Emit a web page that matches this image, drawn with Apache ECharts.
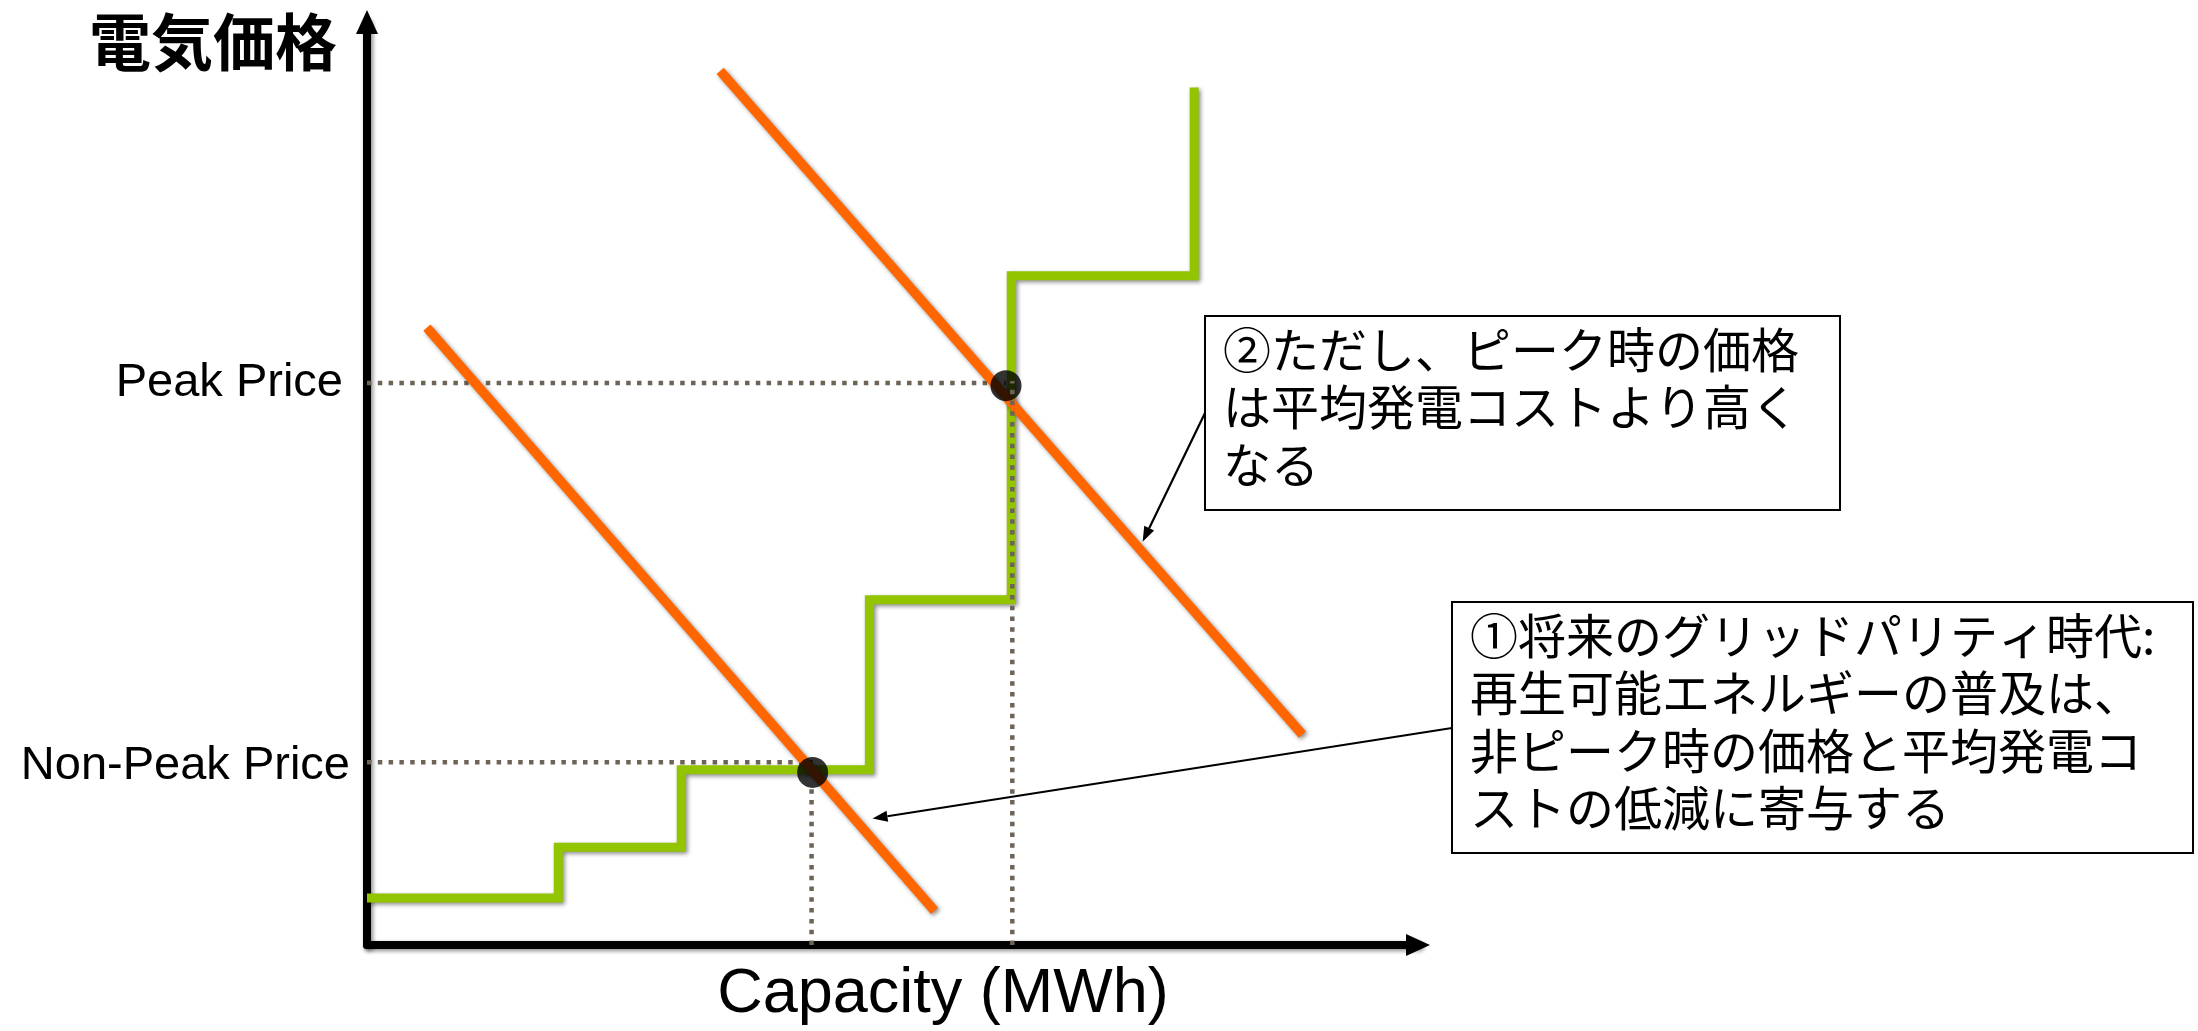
<!DOCTYPE html>
<html lang="ja">
<head>
<meta charset="utf-8">
<title>電気価格と発電容量</title>
<script src="https://cdn.jsdelivr.net/npm/echarts@6/dist/echarts.min.js"></script>
<style>
  html, body { margin: 0; padding: 0; background: #ffffff; }
  #chart { width: 2198px; height: 1031px; }
</style>
</head>
<body>
<div id="chart"></div>
<script>
// Supply curve (merit order): capacity breakpoints and the price of each block
const supplyCapacity = [0, 18.2, 29.9, 47.8, 61.3, 78.7];
const supplyPrice    = [5.1, 10.6, 19.0, 37.4, 72.5, 92.9];

// Demand lines as [capacity, price] end points
const offPeakDemand = [[5.7, 66.9], [54.0, 3.7]];
const peakDemand    = [[33.6, 94.7], [89.0, 22.8]];

// Clearing points and the price levels named on the price axis
const priceLabels      = ['Non-Peak Price', 'Peak Price'];
const priceLevels      = [19.8, 60.9];
const clearingPoints   = [[42.4, 18.7], [60.8, 60.6]];
const capacityGuideX   = [42.3, 61.4];
const capacityGuideTop = [17.0, 61.1];

// Annotation texts and the points on the demand lines their arrows point to
const notes = [
  '①将来のグリッドパリティ時代:\n再生可能エネルギーの普及は、\n非ピーク時の価格と平均発電コ\nストの低減に寄与する',
  '②ただし、ピーク時の価格\nは平均発電コストより高く\nなる'
];
const noteTargets = [[48.1, 13.7], [73.8, 43.7]];

// Layout of the annotation boxes (pixels)
const noteBoxes = [
  { x: 1452, y: 602, w: 741, h: 251, tail: [1452, 728] },
  { x: 1205, y: 316, w: 635, h: 194, tail: [1205, 413] }
];

const LATIN = 'Liberation Sans, Arial, sans-serif';
const CJK = '"Noto Sans CJK JP", "Noto Sans CJK SC", sans-serif';
const ORANGE = '#ff6600';
const GREEN = '#92c400';
const GUIDE = '#6e6357';

const shadow = {
  shadowColor: 'rgba(0,0,0,0.45)',
  shadowBlur: 4,
  shadowOffsetX: 2,
  shadowOffsetY: 2
};

const guideStyle = {
  color: GUIDE,
  width: 4.5,
  type: [4.5, 6.3],
  cap: 'butt'
};

function guideSeries(data, z) {
  return {
    type: 'line',
    data: data,
    showSymbol: false,
    silent: true,
    z: z,
    lineStyle: guideStyle
  };
}

const series = [];

// dotted guides from the price axis to each clearing point
priceLevels.forEach(function (p, i) {
  series.push(guideSeries([[0, p], [clearingPoints[i][0], p]], 2));
});

series.push({
  type: 'line',
  name: 'supply',
  step: 'end',
  data: supplyCapacity.map(function (c, i) { return [c, supplyPrice[i]]; }),
  showSymbol: false,
  z: 3,
  lineStyle: Object.assign({ color: GREEN, width: 9, cap: 'butt', join: 'miter' }, shadow)
});

[offPeakDemand, peakDemand].forEach(function (d) {
  series.push({
    type: 'line',
    data: d,
    showSymbol: false,
    z: 3,
    lineStyle: Object.assign({ color: ORANGE, width: 9.5, cap: 'butt' }, shadow)
  });
});

series.push({
  type: 'scatter',
  data: clearingPoints,
  symbol: 'circle',
  symbolSize: 31,
  z: 4,
  itemStyle: { color: '#000000' }
});

// dotted guides dropped to the capacity axis
capacityGuideX.forEach(function (x, i) {
  series.push(guideSeries([[x, 0], [x, capacityGuideTop[i]]], 5));
});

const axisLineStyle = Object.assign({ color: '#000000', width: 8 }, shadow);

const option = {
  backgroundColor: '#ffffff',
  animation: false,
  grid: { left: 367, right: 780, top: 22, bottom: 84, containLabel: false },
  xAxis: {
    type: 'value',
    min: 0,
    max: 100,
    name: 'Capacity (MWh)',
    nameLocation: 'middle',
    nameGap: 18,
    nameTextStyle: {
      fontFamily: LATIN,
      fontSize: 63,
      color: '#000000',
      verticalAlign: 'top',
      lineHeight: 63,
      padding: [0, 0, 0, 101]
    },
    axisLine: {
      show: true,
      symbol: ['none', 'triangle'],
      symbolSize: [22, 24],
      lineStyle: axisLineStyle
    },
    axisTick: { show: false },
    axisLabel: { show: false },
    splitLine: { show: false }
  },
  yAxis: {
    type: 'value',
    min: 0,
    max: 100,
    name: '電気価格',
    nameLocation: 'end',
    nameGap: -20,
    nameTextStyle: {
      fontFamily: CJK,
      fontWeight: 'bold',
      fontSize: 62,
      color: '#000000',
      align: 'right',
      verticalAlign: 'middle',
      padding: [0, 30, 0, 0]
    },
    axisLine: {
      show: true,
      symbol: ['none', 'triangle'],
      symbolSize: [22, 24],
      lineStyle: axisLineStyle
    },
    axisTick: { show: false },
    splitLine: { show: false },
    axisLabel: {
      show: true,
      customValues: priceLevels,
      margin: 17,
      fontFamily: LATIN,
      fontSize: 47,
      color: '#000000',
      formatter: function (v) {
        const i = priceLevels.indexOf(v);
        return i === 1 ? '{p|' + priceLabels[i] + '}' : '{n|' + priceLabels[i] + '}';
      },
      rich: {
        p: { fontFamily: LATIN, fontSize: 47, color: '#000000', padding: [0, 7, 0, 0] },
        n: { fontFamily: LATIN, fontSize: 47, color: '#000000', padding: [8, 0, 0, 0] }
      }
    }
  },
  series: series
};

const chart = echarts.init(document.getElementById('chart'), null, { renderer: 'canvas' });
chart.setOption(option);

// Annotation boxes with arrows pointing at the demand lines
function arrowElements(tail, tip) {
  const dx = tip[0] - tail[0];
  const dy = tip[1] - tail[1];
  const len = Math.hypot(dx, dy);
  const ux = dx / len, uy = dy / len;
  const headLen = 15, headHalf = 5.5;
  const bx = tip[0] - ux * headLen, by = tip[1] - uy * headLen;
  return [
    {
      type: 'line',
      shape: { x1: tail[0], y1: tail[1], x2: bx, y2: by },
      style: { stroke: '#000000', lineWidth: 2.2 },
      z: 10
    },
    {
      type: 'polygon',
      shape: { points: [tip, [bx - uy * headHalf, by + ux * headHalf], [bx + uy * headHalf, by - ux * headHalf]] },
      style: { fill: '#000000' },
      z: 10
    }
  ];
}

const graphics = [];
notes.forEach(function (text, i) {
  const box = noteBoxes[i];
  const tip = chart.convertToPixel({ gridIndex: 0 }, noteTargets[i]);
  arrowElements(box.tail, tip).forEach(function (el) { graphics.push(el); });
  graphics.push({
    type: 'rect',
    shape: { x: box.x, y: box.y, width: box.w, height: box.h },
    style: { fill: '#ffffff', stroke: '#000000', lineWidth: 2 },
    z: 11
  });
  graphics.push({
    type: 'text',
    x: box.x + 18,
    y: box.y + 5,
    z: 12,
    style: {
      text: text,
      fontFamily: CJK,
      fontSize: 48,
      lineHeight: 57.5,
      fill: '#000000',
      align: 'left',
      verticalAlign: 'top'
    }
  });
});

chart.setOption({ graphic: graphics });
</script>
</body>
</html>
